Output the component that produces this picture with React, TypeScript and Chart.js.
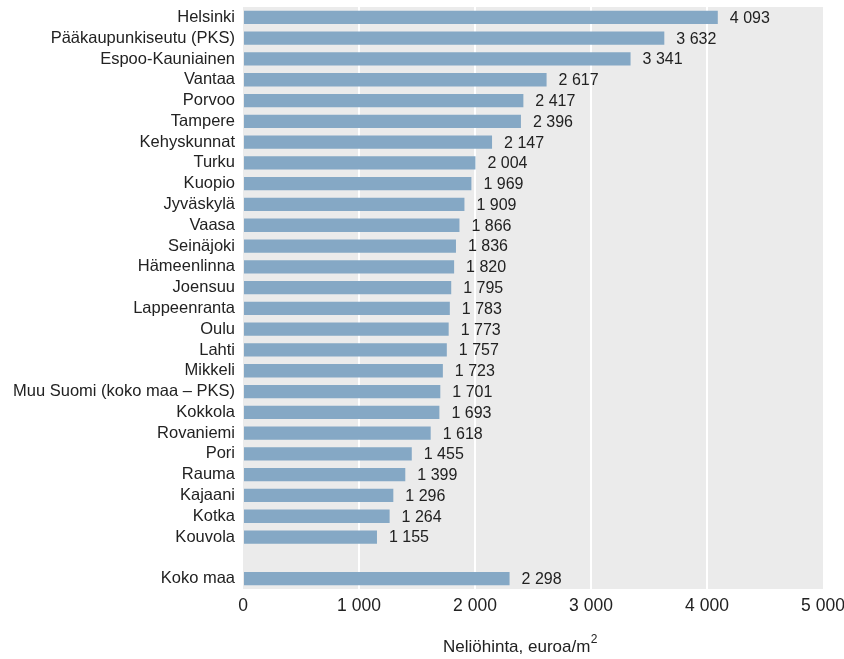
import React, { useEffect, useRef } from "react";
import { Chart, registerables } from "chart.js";

Chart.register(...registerables);

const categories: string[] = [
  "Helsinki",
  "Pääkaupunkiseutu (PKS)",
  "Espoo-Kauniainen",
  "Vantaa",
  "Porvoo",
  "Tampere",
  "Kehyskunnat",
  "Turku",
  "Kuopio",
  "Jyväskylä",
  "Vaasa",
  "Seinäjoki",
  "Hämeenlinna",
  "Joensuu",
  "Lappeenranta",
  "Oulu",
  "Lahti",
  "Mikkeli",
  "Muu Suomi (koko maa – PKS)",
  "Kokkola",
  "Rovaniemi",
  "Pori",
  "Rauma",
  "Kajaani",
  "Kotka",
  "Kouvola",
  "",
  "Koko maa",
];

const prices: (number | null)[] = [
  4093, 3632, 3341, 2617, 2417, 2396, 2147, 2004, 1969, 1909, 1866, 1836,
  1820, 1795, 1783, 1773, 1757, 1723, 1701, 1693, 1618, 1455, 1399, 1296,
  1264, 1155, null, 2298,
];

const xTicks: number[] = [0, 1000, 2000, 3000, 4000, 5000];

const FONT = "'Liberation Sans', Arial, sans-serif";
const TEXT = "#222222";

const fmt = (v: number) =>
  String(v).replace(/\B(?=(\d{3})+(?!\d))/g, " ");

const bgPlugin = {
  id: "plotBg",
  beforeDraw(chart: any) {
    const { ctx, chartArea } = chart;
    ctx.save();
    ctx.fillStyle = "#ebebeb";
    ctx.fillRect(
      chartArea.left,
      chartArea.top,
      chartArea.right - chartArea.left,
      chartArea.bottom - chartArea.top
    );
    ctx.restore();
  },
};

const labelPlugin = {
  id: "valueLabels",
  afterDatasetsDraw(chart: any) {
    const { ctx } = chart;
    const meta = chart.getDatasetMeta(0);
    ctx.save();
    ctx.font = `16px ${FONT}`;
    ctx.fillStyle = TEXT;
    ctx.textAlign = "left";
    ctx.textBaseline = "middle";
    meta.data.forEach((bar: any, i: number) => {
      const v = prices[i];
      if (v == null) return;
      ctx.fillText(fmt(v), bar.x + 12, bar.y + 1);
    });
    // axis title with superscript
    const xs = chart.scales.x;
    const cx = (xs.left + xs.right) / 2 - 13;
    const main = "Neliöhinta, euroa/m";
    ctx.font = `17px ${FONT}`;
    const w1 = ctx.measureText(main).width;
    ctx.font = `12px ${FONT}`;
    const w2 = ctx.measureText("2").width;
    const start = cx - (w1 + w2) / 2;
    ctx.font = `17px ${FONT}`;
    ctx.textBaseline = "alphabetic";
    ctx.fillText(main, start, 652);
    ctx.font = `12px ${FONT}`;
    ctx.fillText("2", start + w1 + 0.5, 643);
    ctx.restore();
  },
};

export default function App() {
  const ref = useRef<HTMLCanvasElement | null>(null);
  useEffect(() => {
    if (!ref.current) return;
    const chart = new Chart(ref.current, {
      type: "bar",
      data: {
        labels: categories,
        datasets: [
          {
            data: prices,
            backgroundColor: "#85a8c5",
            borderWidth: 0,
            barPercentage: 0.64,
            categoryPercentage: 1,
          },
        ],
      },
      options: {
        indexAxis: "y",
        animation: false,
        responsive: false,
        maintainAspectRatio: false,
        layout: { padding: { top: 7, right: 21, left: 0, bottom: 0 } },
        plugins: {
          legend: { display: false },
          tooltip: { enabled: false },
        },
        scales: {
          x: {
            min: 0,
            max: 5000,
            afterFit: (s: any) => {
              s.height = 70;
              s.paddingLeft = 0;
              s.paddingRight = 0;
            },
            afterBuildTicks: (s: any) => {
              s.ticks = xTicks.map((v) => ({ value: v }));
            },
            border: { display: false },
            grid: {
              color: (c: any) =>
                c.tick && (c.tick.value === 0 || c.tick.value === 5000)
                  ? "rgba(0,0,0,0)"
                  : "#ffffff",
              lineWidth: 2,
              drawTicks: false,
            },
            ticks: {
              padding: 7,
              color: TEXT,
              font: { family: FONT, size: 17.5 },
              callback: (v: any) => fmt(Number(v)),
              maxRotation: 0,
            },
          },
          y: {
            afterFit: (s: any) => {
              s.width = 243;
              s.paddingTop = 0;
              s.paddingBottom = 0;
            },
            border: { display: false },
            grid: { display: false, drawTicks: false },
            ticks: {
              padding: 8,
              color: TEXT,
              font: { family: FONT, size: 16.5 },
              autoSkip: false,
            },
          },
        },
      },
      plugins: [bgPlugin, labelPlugin],
    });
    return () => chart.destroy();
  }, []);
  return (
    <div style={{ position: "absolute", left: 0, top: 0, width: 844, height: 659 }}>
      <canvas ref={ref} width={844} height={659} style={{ width: 844, height: 659 }} />
    </div>
  );
}
